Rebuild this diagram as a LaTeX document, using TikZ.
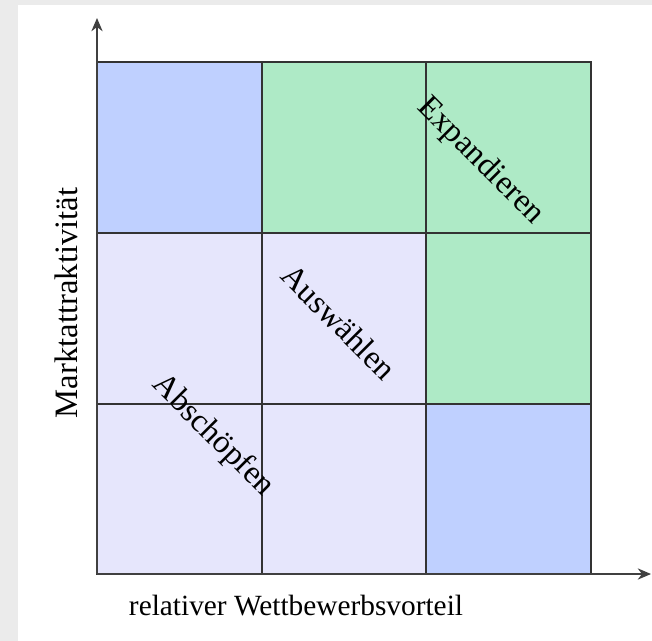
\documentclass[tikz,border=0pt]{standalone}
\usepackage{fontspec}
\setmainfont{Liberation Serif}
\usetikzlibrary{arrows.meta}
\definecolor{cellblue}{RGB}{191,208,255}
\definecolor{cellgreen}{RGB}{174,234,198}
\definecolor{celllila}{RGB}{230,230,252}
\definecolor{pagegray}{RGB}{235,235,235}
\tikzset{
  cell/.style={draw=black!80,line width=0.8pt},
  axis/.style={draw=black!75,line width=1pt,-{Stealth[length=10pt,width=8.5pt]}},
  lbl/.style={font=\fontsize{22}{26}\selectfont,inner sep=0pt},
  biglbl/.style={font=\fontsize{24.5}{29}\selectfont,inner sep=0pt}
}
\begin{document}
\begin{tikzpicture}[x=0.75pt,y=-0.75pt]
    \useasboundingbox (0,0) rectangle (652,641);
    \fill [pagegray](0,0) rectangle (652,641);
    \fill [white](18,5) rectangle (652,641);
    % cells
    \filldraw [cell,fill=cellblue] (97,62) rectangle (262,233);
    \filldraw [cell,fill=cellgreen] (262,62) rectangle (426,233);
    \filldraw [cell,fill=cellgreen] (426,62) rectangle (591,233);
    \filldraw [cell,fill=celllila] (97,233) rectangle (262,404);
    \filldraw [cell,fill=celllila] (262,233) rectangle (426,404);
    \filldraw [cell,fill=cellgreen] (426,233) rectangle (591,404);
    \filldraw [cell,fill=celllila] (97,404) rectangle (262,574);
    \filldraw [cell,fill=celllila] (262,404) rectangle (426,574);
    \filldraw [cell,fill=cellblue] (426,404) rectangle (591,574);
    % axes
    \coordinate (O) at (97,574);
    \coordinate (Ytip) at (97,18);
    \coordinate (Xtip) at (651,574);
    \draw [axis](O)--(Ytip);
    \draw [axis](O)--(Xtip);
    \node [lbl] (xlabel) at (296,606) {relativer Wettbewerbsvorteil};
    \node [biglbl,rotate=90] (ylabel) at (66,303) {Marktattraktivität};
    \node [biglbl,rotate=-45] (expand) at (480,161) {Expandieren};
    \node [biglbl,rotate=-45] (select) at (339,322) {Auswählen};
    \node [biglbl,rotate=-45] (skim) at (213,436) {Abschöpfen};
\end{tikzpicture}
\end{document}
